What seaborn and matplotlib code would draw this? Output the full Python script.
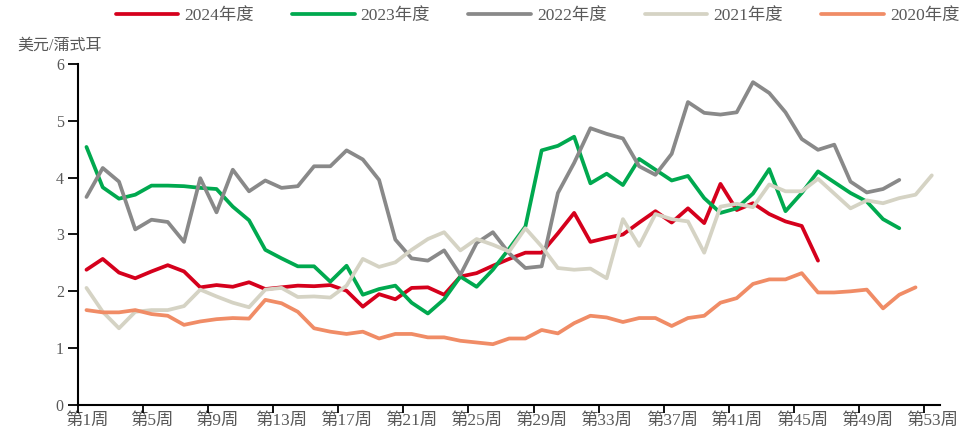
import numpy as np
import pandas as pd
import matplotlib
matplotlib.use('Agg')
import matplotlib.pyplot as plt
import seaborn as sns

sns.set_style('ticks')
plt.rcParams['font.family'] = ['Liberation Serif', 'Noto Sans CJK SC']
plt.rcParams['axes.unicode_minus'] = False

weeks = np.arange(1, 54)
week_labels = ['第{}周'.format(w) for w in range(1, 54, 4)]

price_2024 = [2.38, 2.57, 2.33, 2.23, 2.35, 2.46, 2.35, 2.07, 2.11, 2.08,
              2.16, 2.04, 2.07, 2.10, 2.09, 2.11, 2.01, 1.73, 1.95, 1.86,
              2.06, 2.07, 1.94, 2.26, 2.32, 2.45, 2.57, 2.68, 2.68, 3.02,
              3.38, 2.87, 2.94, 3.00, 3.21, 3.41, 3.21, 3.46, 3.20, 3.89,
              3.43, 3.55, 3.36, 3.23, 3.15, 2.54]
price_2023 = [4.54, 3.83, 3.63, 3.70, 3.86, 3.86, 3.85, 3.82, 3.80, 3.49,
              3.25, 2.73, 2.58, 2.44, 2.44, 2.17, 2.45, 1.94, 2.04, 2.10,
              1.80, 1.61, 1.86, 2.26, 2.08, 2.38, 2.75, 3.14, 4.48, 4.56,
              4.72, 3.90, 4.07, 3.87, 4.33, 4.14, 3.95, 4.03, 3.64, 3.38,
              3.46, 3.72, 4.15, 3.41, 3.73, 4.11, 3.92, 3.73, 3.58, 3.27,
              3.11]
price_2022 = [3.66, 4.17, 3.93, 3.09, 3.26, 3.22, 2.87, 3.99, 3.39, 4.14,
              3.76, 3.95, 3.82, 3.85, 4.20, 4.20, 4.48, 4.32, 3.96, 2.91,
              2.58, 2.54, 2.72, 2.29, 2.85, 3.04, 2.67, 2.41, 2.44, 3.73,
              4.26, 4.87, 4.77, 4.69, 4.20, 4.05, 4.42, 5.33, 5.14, 5.11,
              5.15, 5.68, 5.49, 5.15, 4.68, 4.49, 4.58, 3.93, 3.74, 3.80,
              3.96]
price_2021 = [2.06, 1.64, 1.35, 1.64, 1.67, 1.67, 1.74, 2.03, 1.91, 1.80,
              1.72, 2.03, 2.06, 1.90, 1.91, 1.89, 2.10, 2.57, 2.43, 2.51,
              2.73, 2.92, 3.04, 2.72, 2.92, 2.82, 2.70, 3.11, 2.79, 2.41,
              2.38, 2.40, 2.23, 3.27, 2.80, 3.36, 3.27, 3.23, 2.68, 3.49,
              3.54, 3.48, 3.88, 3.76, 3.76, 3.98, 3.72, 3.46, 3.60, 3.55,
              3.64, 3.70, 4.04]
price_2020 = [1.67, 1.63, 1.63, 1.67, 1.60, 1.57, 1.41, 1.47, 1.51, 1.53,
              1.52, 1.85, 1.79, 1.64, 1.35, 1.29, 1.25, 1.29, 1.17, 1.25,
              1.25, 1.19, 1.19, 1.13, 1.10, 1.07, 1.17, 1.17, 1.32, 1.26,
              1.44, 1.57, 1.54, 1.46, 1.53, 1.53, 1.39, 1.53, 1.57, 1.80,
              1.88, 2.13, 2.21, 2.21, 2.32, 1.98, 1.98, 2.00, 2.03, 1.70,
              1.94, 2.07]

series = [('2024年度', price_2024, '#d5001c'),
          ('2023年度', price_2023, '#00a94f'),
          ('2022年度', price_2022, '#898989'),
          ('2021年度', price_2021, '#d5d3c4'),
          ('2020年度', price_2020, '#f08c66')]

text_colour = '#595959'

fig = plt.figure(figsize=(9.72, 4.32), dpi=100)
ax = fig.add_axes([0.0806, 0.0625, 0.8864, 0.7894])

for name, vals, colour in series:
    df = pd.DataFrame({'week': weeks[:len(vals)], 'price': vals})
    sns.lineplot(data=df, x='week', y='price', ax=ax, color=colour,
                 linewidth=2.7, label=name)

ax.set_xlim(0.5, 53.5)
ax.set_ylim(0, 6)
ax.set_xlabel('')
ax.set_ylabel('')

ax.set_xticks(np.arange(1, 54, 4))
ax.set_xticklabels(week_labels)
ax.set_xticks(np.arange(0.5, 53, 4), minor=True)
ax.tick_params(axis='x', which='major', length=0, pad=6,
               labelsize=12.5, labelcolor=text_colour)
ax.tick_params(axis='x', which='minor', length=6, width=1.3,
               color='black', direction='out')
ax.set_yticks(range(0, 7))
ax.tick_params(axis='y', length=7, width=1.3, color='black',
               direction='out', labelsize=11.5, labelcolor=text_colour)

for side in ['top', 'right']:
    ax.spines[side].set_visible(False)
for side in ['left', 'bottom']:
    ax.spines[side].set_linewidth(1.5)
    ax.spines[side].set_color('black')

fig.text(0.018, 0.895, '美元/蒲式耳', fontsize=11.5, color=text_colour,
         ha='left', va='center')

handles, labels = ax.get_legend_handles_labels()
ax.get_legend().remove()
fig.legend(handles, labels, loc='center', bbox_to_anchor=(0.553, 0.963),
           ncol=5, frameon=False, fontsize=12.5, handlelength=3.6,
           handletextpad=0.35, columnspacing=2.2, labelcolor=text_colour)

fig.savefig('out.png', dpi=100)
